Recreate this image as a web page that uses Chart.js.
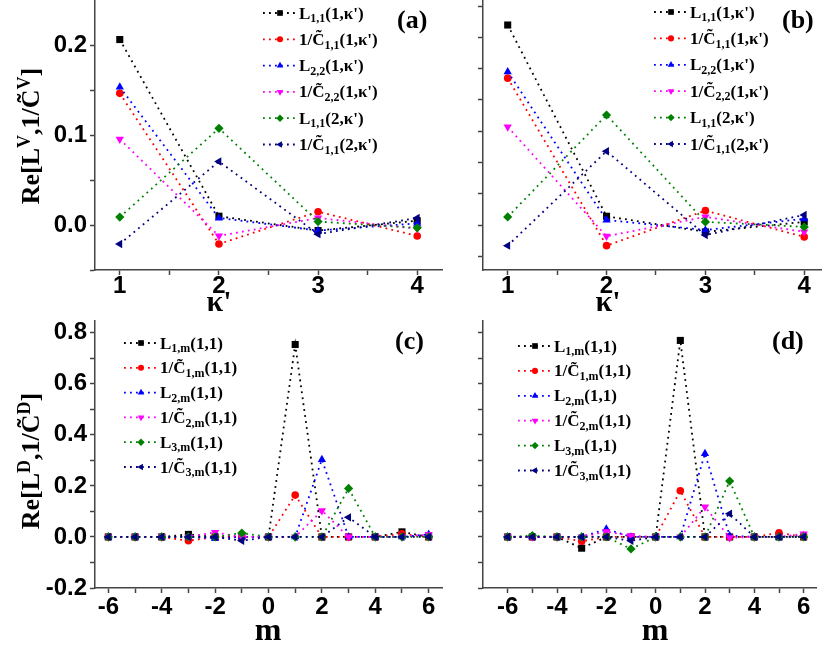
<!DOCTYPE html>
<html>
<head>
<meta charset="utf-8">
<script src="https://cdn.jsdelivr.net/npm/chart.js@4.4.1/dist/chart.umd.min.js"></script>
<style>
html, body { margin: 0; padding: 0; background: #fff; }
#wrap { position: relative; width: 822px; height: 650px; overflow: hidden; }
canvas { position: absolute; }
</style>
</head>
<body>
<div id="wrap">
  <canvas id="pa" width="450" height="320" style="left:0;top:0"></canvas>
  <canvas id="pb" width="372" height="320" style="left:450px;top:0"></canvas>
  <canvas id="pc" width="450" height="330" style="left:0;top:320px"></canvas>
  <canvas id="pd" width="372" height="330" style="left:450px;top:320px"></canvas>
</div>
<script>
// x categories
const kappa = [1, 2, 3, 4];
const mVals = [-6, -5, -4, -3, -2, -1, 0, 1, 2, 3, 4, 5, 6];

// panel (a)
const aL11k1 = [0.207, 0.010, -0.006, 0.005];
const aC11k1 = [0.147, -0.021, 0.015, -0.012];
const aL22k1 = [0.154, 0.008, -0.006, 0.002];
const aC22k1 = [0.096, -0.012, 0.008, -0.004];
const aL11k2 = [0.009, 0.108, 0.004, -0.003];
const aC11k2 = [-0.021, 0.071, -0.010, 0.008];

// panel (b)
const bL11k1 = [0.320, 0.014, -0.011, 0.005];
const bC11k1 = [0.235, -0.033, 0.023, -0.019];
const bL22k1 = [0.245, 0.008, -0.008, 0.010];
const bC22k1 = [0.157, -0.018, 0.013, -0.011];
const bL11k2 = [0.013, 0.176, 0.005, -0.003];
const bC11k2 = [-0.033, 0.118, -0.016, 0.016];

// panel (c)
const cL1m = [0, 0, 0, 0.010, 0, 0, 0, 0.754, 0, 0, 0, 0.020, 0];
const cC1m = [0, 0, 0, -0.015, 0, 0, 0, 0.164, 0, 0, 0, 0.012, 0];
const cL2m = [0, 0, 0, 0, -0.005, 0, 0, 0, 0.303, 0, 0, 0, 0.010];
const cC2m = [0, 0, 0, 0, 0.018, 0, 0, 0, 0.103, 0, 0, 0, 0.010];
const cL3m = [0, 0, 0, 0, 0, 0.015, 0, 0, 0, 0.190, 0, 0, 0];
const cC3m = [0, 0, 0, 0, 0, -0.015, 0, 0, 0, 0.077, 0, 0, 0];

// panel (d)
const dL1m = [0, 0, 0, -0.044, 0, 0, 0, 0.770, 0, 0, 0, 0, 0];
const dC1m = [0, 0, 0, -0.017, 0, 0, 0, 0.181, 0, 0, 0, 0.016, 0];
const dL2m = [0, 0, 0, 0, 0.031, 0, 0, 0, 0.327, 0.005, 0, 0, 0.005];
const dC2m = [0, 0, 0, 0, 0.021, 0.005, 0, 0, 0.118, -0.003, 0, 0, 0.012];
const dL3m = [0, 0.005, 0, 0, 0, -0.047, 0, 0, 0, 0.219, 0, 0, 0];
const dC3m = [0, 0, 0, 0, 0, -0.015, 0, 0, 0, 0.091, 0, 0, 0];

// ticks
const kTicks = [1, 1.5, 2, 2.5, 3, 3.5, 4];
const kLabels = ['1', '', '2', '', '3', '', '4'];
const aYTicks = [-0.05, 0, 0.05, 0.1, 0.15, 0.2];
const aYLabels = ['', '0.0', '', '0.1', '', '0.2'];
const bYTicks = [-0.05, 0, 0.05, 0.1, 0.15, 0.2, 0.25, 0.3, 0.35];
const bYLabels = ['', '', '', '', '', '', '', '', ''];
const mTicks = [-6, -5, -4, -3, -2, -1, 0, 1, 2, 3, 4, 5, 6];
const mLabels = ['-6', '', '-4', '', '-2', '', '0', '', '2', '', '4', '', '6'];
const dYTicks = [-0.2, -0.1, 0, 0.1, 0.2, 0.3, 0.4, 0.5, 0.6, 0.7, 0.8];
const cYLabels = ['-0.2', '', '0.0', '', '0.2', '', '0.4', '', '0.6', '', '0.8'];
const dYLabels = ['', '', '', '', '', '', '', '', '', '', ''];

// legend texts (_{} subscript, ^{} superscript)
const legendV = ["L_{1,1}(1,κ')", "1/C\u0303_{1,1}(1,κ')", "L_{2,2}(1,κ')",
                 "1/C\u0303_{2,2}(1,κ')", "L_{1,1}(2,κ')", "1/C\u0303_{1,1}(2,κ')"];
const legendD = ["L_{1,m}(1,1)", "1/C\u0303_{1,m}(1,1)", "L_{2,m}(1,1)",
                 "1/C\u0303_{2,m}(1,1)", "L_{3,m}(1,1)", "1/C\u0303_{3,m}(1,1)"];

const seriesStyle = [
    { color: '#000000', shape: 'rect', rot: 0, r: 5 },
    { color: '#ff0000', shape: 'circle', rot: 0, r: 3.8 },
    { color: '#0000ff', shape: 'triangle', rot: 0, r: 4.8 },
    { color: '#ff00ff', shape: 'triangle', rot: 180, r: 4.8 },
    { color: '#008000', shape: 'rectRot', rot: 0, r: 4.6 },
    { color: '#000080', shape: 'triangle', rot: -90, r: 4.8 },
];
const axisColor = '#444';
const serif = '"Liberation Serif", "Times New Roman", serif';

function richParts(str) {
    return str.split(/(_\{[^}]*\}|\^\{[^}]*\})/).filter(s => s).map(s => {
        if (s[0] === '_') return { t: s.slice(2, -1), k: 'sub' };
        if (s[0] === '^') return { t: s.slice(2, -1), k: 'sup' };
        return { t: s, k: '' };
    });
}

function drawRich(ctx, str, x, y, size, align) {
    const parts = richParts(str);
    const fontFor = k => 'bold ' + (k ? Math.round(size * 0.68) : size) + 'px ' + serif;
    let w = 0;
    parts.forEach(p => { ctx.font = fontFor(p.k); p.w = ctx.measureText(p.t).width; w += p.w; });
    let cx = align === 'center' ? x - w / 2 : x;
    ctx.textAlign = 'left';
    ctx.textBaseline = 'alphabetic';
    parts.forEach(p => {
        ctx.font = fontFor(p.k);
        const dy = p.k === 'sub' ? size * 0.22 : p.k === 'sup' ? -size * 0.36 : 0;
        ctx.fillText(p.t, cx, y + dy);
        cx += p.w;
    });
}

function drawMarker(ctx, shape, rot, x, y, r) {
    ctx.save();
    ctx.translate(x, y);
    ctx.rotate(rot * Math.PI / 180);
    ctx.beginPath();
    if (shape === 'circle') {
        ctx.arc(0, 0, r, 0, 2 * Math.PI);
    } else if (shape === 'rect') {
        const s = r * Math.SQRT1_2;
        ctx.rect(-s, -s, 2 * s, 2 * s);
    } else if (shape === 'rectRot') {
        ctx.moveTo(0, -r); ctx.lineTo(r, 0); ctx.lineTo(0, r); ctx.lineTo(-r, 0);
        ctx.closePath();
    } else {
        for (let k = 0; k < 3; k++) {
            const a = k * 2 * Math.PI / 3;
            if (k) ctx.lineTo(Math.sin(a) * r, -Math.cos(a) * r);
            else ctx.moveTo(Math.sin(a) * r, -Math.cos(a) * r);
        }
        ctx.closePath();
    }
    ctx.fill();
    ctx.restore();
}

const decoPlugin = {
    id: 'deco',
    afterDraw(chart, args, o) {
        const ctx = chart.ctx;
        ctx.save();
        o.legend.forEach((txt, i) => {
            const y = o.ly + i * o.ldy;
            const st = seriesStyle[i];
            ctx.strokeStyle = st.color;
            ctx.lineWidth = 1.8;
            ctx.setLineDash([1.8, 4.2]);
            ctx.beginPath();
            ctx.moveTo(o.lx, y);
            ctx.lineTo(o.lx + 32, y);
            ctx.stroke();
            ctx.setLineDash([]);
            ctx.fillStyle = st.color;
            drawMarker(ctx, st.shape, st.rot, o.lx + 17, y, st.r * 0.8);
            ctx.fillStyle = '#000';
            drawRich(ctx, txt, o.lx + 36, y + 5.5, 17, 'left');
        });
        ctx.fillStyle = '#000';
        o.texts.forEach(t => {
            ctx.save();
            ctx.translate(t.x, t.y);
            if (t.rot) ctx.rotate(-Math.PI / 2);
            drawRich(ctx, t.t, 0, 0, t.size, t.align);
            ctx.restore();
        });
        ctx.restore();
    }
};

function axisOpts(axis, a) {
    return {
        type: 'linear',
        min: a.min,
        max: a.max,
        afterBuildTicks: s => { s.ticks = a.ticks.map(v => ({ value: v })); },
        afterFit: s => {
            if (axis === 'x') s.height = a.size; else s.width = a.size;
            s.paddingLeft = s.paddingRight = s.paddingTop = s.paddingBottom = 0;
        },
        border: { display: true, color: axisColor, width: 1.5 },
        grid: { display: true, drawOnChartArea: false, drawTicks: true, tickLength: 5, tickColor: axisColor, tickWidth: 1.5 },
        ticks: {
            autoSkip: false,
            maxRotation: 0,
            padding: a.pad === undefined ? 3 : a.pad,
            color: '#000',
            font: { family: '"Liberation Sans", Arial, sans-serif', weight: 'bold', size: 24 },
            callback: (v, i) => a.labels[i],
        },
    };
}

function makeChart(id, cfg) {
    return new Chart(document.getElementById(id), {
        type: 'line',
        data: {
            datasets: cfg.series.map((vals, i) => ({
                label: cfg.deco.legend[i],
                data: vals.map((v, j) => ({ x: cfg.xs[j], y: v })),
                borderColor: seriesStyle[i].color,
                backgroundColor: seriesStyle[i].color,
                borderWidth: 1.8,
                borderDash: [1.8, 4.2],
                pointStyle: seriesStyle[i].shape,
                pointRotation: seriesStyle[i].rot,
                pointRadius: seriesStyle[i].r,
                pointBorderWidth: 0,
                pointBackgroundColor: seriesStyle[i].color,
                tension: 0,
                fill: false,
                order: 5 - i,
            })),
        },
        options: {
            responsive: false,
            animation: false,
            events: [],
            layout: { autoPadding: false, padding: cfg.pad },
            plugins: { legend: { display: false }, tooltip: { enabled: false }, deco: cfg.deco },
            scales: { x: axisOpts('x', cfg.x), y: axisOpts('y', cfg.y) },
        },
        plugins: [decoPlugin],
    });
}

makeChart('pa', {
    xs: kappa,
    series: [aL11k1, aC11k1, aL22k1, aC22k1, aL11k2, aC11k2],
    pad: { left: 0, top: 1, right: 8, bottom: 0 },
    x: { min: 0.75, max: 4.25, ticks: kTicks, labels: kLabels, size: 50, pad: -3 },
    y: { min: -0.05, max: 0.25, ticks: aYTicks, labels: aYLabels, size: 95 },
    deco: {
        legend: legendV, lx: 263, ly: 13, ldy: 26.3,
        texts: [
            { t: '(a)', x: 397, y: 28, size: 26, align: 'left' },
            { t: "Re[L^{V},1/C\u0303^{V}]", x: 39, y: 136, size: 26, align: 'center', rot: true },
            { t: "κ'", x: 219, y: 311, size: 30, align: 'center' },
        ],
    },
});

makeChart('pb', {
    xs: kappa,
    series: [bL11k1, bC11k1, bL22k1, bC22k1, bL11k2, bC11k2],
    pad: { left: 0, top: 1, right: 0, bottom: 0 },
    x: { min: 0.75, max: 4.18, ticks: kTicks, labels: kLabels, size: 50, pad: -3 },
    y: { min: -0.072, max: 0.3584, ticks: bYTicks, labels: bYLabels, size: 33 },
    deco: {
        legend: legendV, lx: 204, ly: 12, ldy: 26.4,
        texts: [
            { t: '(b)', x: 332, y: 28, size: 26, align: 'left' },
            { t: "κ'", x: 158, y: 311, size: 30, align: 'center' },
        ],
    },
});

makeChart('pc', {
    xs: mVals,
    series: [cL1m, cC1m, cL2m, cC2m, cL3m, cC3m],
    pad: { left: 0, top: 0, right: 8, bottom: 0 },
    x: { min: -6.5, max: 6.5, ticks: mTicks, labels: mLabels, size: 62, pad: 0 },
    y: { min: -0.2, max: 0.85, ticks: dYTicks, labels: cYLabels, size: 95 },
    deco: {
        legend: legendD, lx: 124, ly: 23, ldy: 24.8,
        texts: [
            { t: '(c)', x: 395, y: 29, size: 26, align: 'left' },
            { t: "Re[L^{D},1/C\u0303^{D}]", x: 39, y: 141, size: 26, align: 'center', rot: true },
            { t: 'm', x: 268, y: 320, size: 32, align: 'center' },
        ],
    },
});

makeChart('pd', {
    xs: mVals,
    series: [dL1m, dC1m, dL2m, dC2m, dL3m, dC3m],
    pad: { left: 0, top: 0, right: 6, bottom: 0 },
    x: { min: -7, max: 6.5, ticks: mTicks, labels: mLabels, size: 62, pad: 0 },
    y: { min: -0.2, max: 0.85, ticks: dYTicks, labels: dYLabels, size: 33 },
    deco: {
        legend: legendD, lx: 68, ly: 26, ldy: 24.9,
        texts: [
            { t: '(d)', x: 322, y: 29, size: 26, align: 'left' },
            { t: 'm', x: 205, y: 320, size: 32, align: 'center' },
        ],
    },
});
</script>
</body>
</html>
